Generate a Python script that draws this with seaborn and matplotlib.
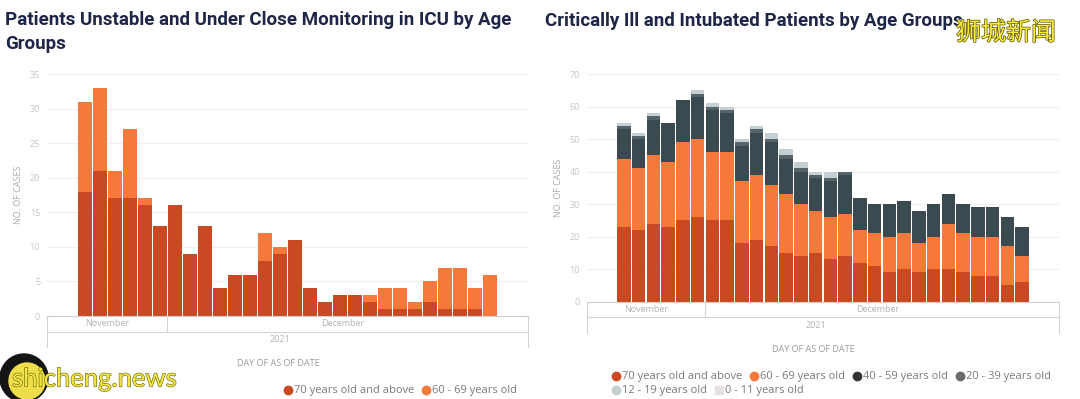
import numpy as np
import pandas as pd
import matplotlib
matplotlib.use('Agg')
import matplotlib.pyplot as plt
import matplotlib.patheffects as pe
from matplotlib.lines import Line2D
from matplotlib.patches import Ellipse
from matplotlib.transforms import blended_transform_factory
import seaborn as sns

# ---- data ----
dates = pd.date_range('2021-11-25', '2021-12-22').strftime('%Y-%m-%d').tolist()

# left: ICU unstable / close monitoring
icu_70plus = [18, 21, 17, 17, 16, 13, 16, 9, 13, 4, 6, 6, 8, 9, 11, 4, 2, 3, 3, 2, 1, 1, 1, 2, 1, 1, 1, 0]
icu_60_69 = [13, 12, 4, 10, 1, 0, 0, 0, 0, 0, 0, 0, 4, 1, 0, 0, 0, 0, 0, 1, 3, 3, 1, 3, 6, 6, 3, 6]

# right: critically ill and intubated
int_70plus = [23, 22, 24, 23, 25, 26, 25, 25, 18, 19, 17, 15, 14, 15, 13, 14, 12, 11, 9, 10, 9, 10, 10, 9, 8, 8, 5, 6]
int_60_69 = [21, 19, 21, 20, 24, 24, 21, 21, 19, 20, 19, 18, 16, 13, 13, 13, 10, 10, 11, 11, 9, 10, 14, 12, 12, 12, 12, 8]
int_40_59 = [9, 9, 11, 12, 13, 13, 13, 12, 11, 13, 13, 11, 10, 10, 11, 12, 10, 9, 10, 10, 10, 10, 9, 9, 9, 9, 9, 9]
int_20_39 = [1, 1, 1, 0, 0, 1, 1, 1, 1, 1, 1, 1, 1, 1, 1, 1, 0, 0, 0, 0, 0, 0, 0, 0, 0, 0, 0, 0]
int_12_19 = [1, 1, 1, 0, 0, 1, 1, 1, 1, 1, 2, 2, 2, 1, 2, 0, 0, 0, 0, 0, 0, 0, 0, 0, 0, 0, 0, 0]
int_0_11 = [0] * 28

months = ['November', 'December']
year = '2021'

colors = {
    '70 years old and above': '#c94a22',
    '60 - 69 years old': '#f5793a',
    '40 - 59 years old': '#3b4a51',
    '20 - 39 years old': '#56646a',
    '12 - 19 years old': '#c3cfd1',
    '0 - 11 years old': '#e8e2e8',
}
legend_dot = {'40 - 59 years old': '#333333', '20 - 39 years old': '#666a6d'}

W, H = 1080, 399
sns.set_style('white')
plt.rcParams['font.family'] = ['Open Sans', 'DejaVu Sans']

fig = plt.figure(figsize=(W / 100, H / 100), dpi=100)
fig.patch.set_facecolor('white')


def px_box(x0, y0, x1, y1):
    # pixel box (top-left origin) -> figure fraction rect
    return [x0 / W, 1 - y1 / H, (x1 - x0) / W, (y1 - y0) / H]


ax1 = fig.add_axes(px_box(47, 74, 528, 316))
ax2 = fig.add_axes(px_box(587, 74, 1059, 301.7))


def stacked(ax, layers):
    df = pd.DataFrame(layers, index=dates)
    cum = df.cumsum(axis=1)
    for col in reversed(df.columns):
        sns.barplot(x=dates, y=cum[col].values, color=colors[col], ax=ax,
                    width=0.93, saturation=1, linewidth=0)


stacked(ax1, {'70 years old and above': icu_70plus, '60 - 69 years old': icu_60_69})
stacked(ax2, {'70 years old and above': int_70plus, '60 - 69 years old': int_60_69,
              '40 - 59 years old': int_40_59, '20 - 39 years old': int_20_39,
              '12 - 19 years old': int_12_19, '0 - 11 years old': int_0_11})


def style_axis(ax, ymax, ystep, row1, row2):
    ax.set_xlim(-2.5, 29.5)
    ax.set_ylim(0, ymax)
    ax.set_yticks(np.arange(0, ymax + 1, ystep))
    ax.yaxis.grid(True, color='#f1eeef', lw=0.8)
    ax.set_axisbelow(True)
    for s in ['top', 'right', 'left']:
        ax.spines[s].set_visible(False)
    ax.spines['bottom'].set_color('#cfcfcf')
    ax.spines['bottom'].set_linewidth(0.8)
    ax.set_xticks(np.arange(-2.5, 30, 1))
    ax.set_xticklabels([])
    ax.tick_params(axis='x', length=3, color='#c8c8c8', width=0.7)
    ax.tick_params(axis='y', length=0, labelsize=6.5, labelcolor='#c6c6c6', pad=5)
    ax.set_xlabel('')
    ax.set_ylabel('NO. OF CASES', fontsize=6.5, color='#a9a9a9', labelpad=5)

    # hierarchical date box under the axis
    tr = blended_transform_factory(ax.transData, fig.transFigure)
    lc = '#d4d4d4'
    y0 = ax.get_position().y0
    y1 = 1 - row1 / H
    y2 = 1 - row2 / H
    kw = dict(transform=tr, color=lc, lw=0.8, clip_on=False)
    ax.plot([-2.5, 29.5], [y1, y1], **kw)
    ax.plot([-2.5, -2.5], [y0, y2], **kw)
    ax.plot([29.5, 29.5], [y0, y2], **kw)
    ax.plot([5.5, 5.5], [y0, y1], **kw)
    tk = dict(transform=tr, ha='center', va='center', fontsize=6.5, color='#b3b3b3')
    ax.text(1.5, (y0 + y1) / 2, months[0], **tk)
    ax.text(17.2, (y0 + y1) / 2, months[1], **tk)
    ax.text(13.0, (y1 + y2) / 2, year, **tk)


style_axis(ax1, 35, 5, 332, 347)
style_axis(ax2, 70, 10, 317, 333)

fig.text(278 / W, 1 - 363 / H, 'DAY OF AS OF DATE', ha='center', va='center',
         fontsize=6.5, color='#9a9a9a')
fig.text(813 / W, 1 - 350 / H, 'DAY OF AS OF DATE', ha='center', va='center',
         fontsize=6.5, color='#9a9a9a')

# titles
tkw = dict(fontsize=13.5, fontweight='bold', color='#1d2646', family=['Roboto', 'DejaVu Sans'],
           va='center', ha='left')
fig.text(5 / W, 1 - 20 / H, 'Patients Unstable and Under Close Monitoring in ICU by Age', **tkw)
fig.text(5 / W, 1 - 44 / H, 'Groups', **tkw)
fig.text(545 / W, 1 - 21 / H, 'Critically Ill and Intubated Patients by Age Groups', **tkw)


# legends
def handles_for(names):
    hs = []
    for n in names:
        c = legend_dot.get(n, colors[n])
        m = 's' if n == '0 - 11 years old' else 'o'
        hs.append(Line2D([], [], marker=m, ls='', markersize=6, color=c))
    return hs


lkw = dict(frameon=False, fontsize=8, labelcolor='#7a7a7a', handletextpad=0.1,
           columnspacing=0.7, handlelength=0.8, borderpad=0, borderaxespad=0, loc='center left')
names_l = ['70 years old and above', '60 - 69 years old']
fig.legend(handles_for(names_l), names_l, ncol=2, bbox_to_anchor=(284 / W, 1 - 391 / H), **lkw)
names_r1 = ['70 years old and above', '60 - 69 years old', '40 - 59 years old', '20 - 39 years old']
fig.legend(handles_for(names_r1), names_r1, ncol=4, bbox_to_anchor=(612 / W, 1 - 377 / H), **lkw)
names_r2 = ['12 - 19 years old', '0 - 11 years old']
fig.legend(handles_for(names_r2), names_r2, ncol=2, bbox_to_anchor=(612 / W, 1 - 391 / H), **lkw)

# watermarks from the source screenshot
fig.text(1006 / W, 1 - 33 / H, '狮城新闻', ha='center', va='center', fontsize=18,
         color='#f7ec3a', family=['Noto Sans CJK SC', 'DejaVu Sans'],
         path_effects=[pe.withStroke(linewidth=1.0, foreground='#5c5200')])
fig.patches.append(Ellipse((24 / W, 1 - 378 / H), 48 / W, 48 / H, transform=fig.transFigure,
                           color='#141414', zorder=5))
fig.patches.append(Ellipse((27 / W, 1 - 381 / H), 36 / W, 36 / H, transform=fig.transFigure,
                           color='#eedf4a', zorder=6))
fig.text(12 / W, 1 - 379 / H, 'shicheng.news', ha='left', va='center', fontsize=18.5,
         color='#f1e646', zorder=7, family=['Lato', 'DejaVu Sans'],
         path_effects=[pe.withStroke(linewidth=0.8, foreground='#6a6000')])

fig.savefig('out.png', dpi=100, facecolor='white')
